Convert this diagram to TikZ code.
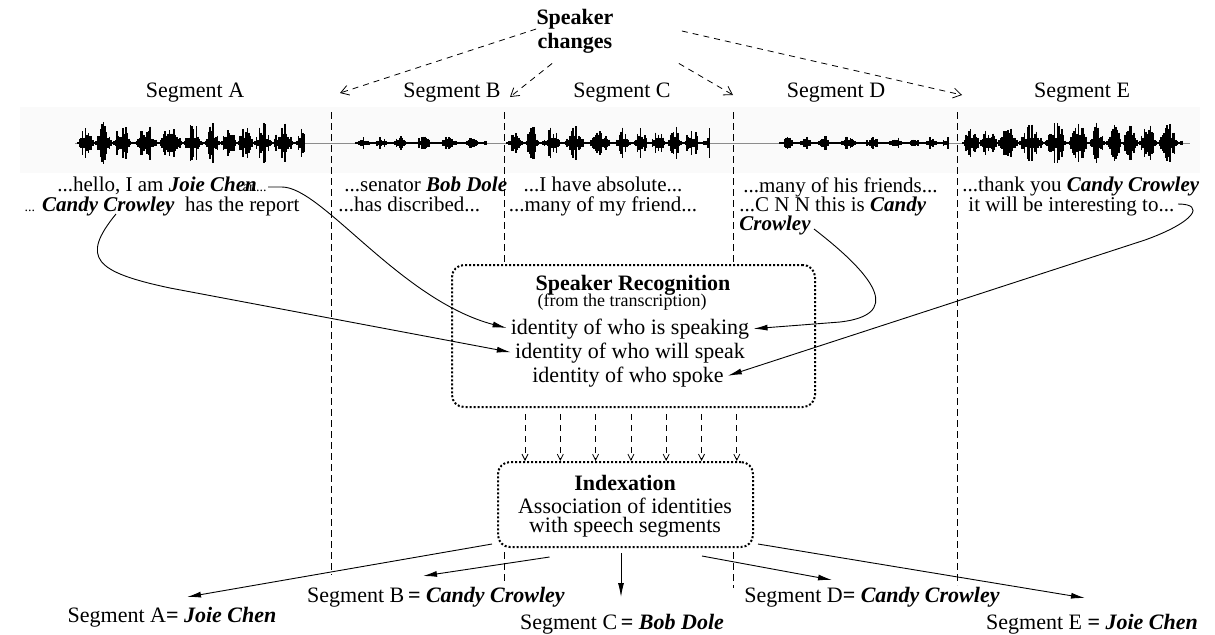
\documentclass[tikz,border=0pt]{standalone}
\usepackage{fontspec}
\setmainfont{Liberation Serif}
\usetikzlibrary{arrows.meta,positioning}
\setlength{\lineskiplimit}{-20pt}

\newcommand{\bi}[1]{\textbf{\textit{#1}}}
% one burst of the signal: start, end, amplitude, sharpness
\newcommand{\wavepart}[4]{%
  \pgfmathsetmacro{\wnext}{#1+1.5}%
  \foreach \wx in {#1,\wnext,...,#2}{%
    \pgfmathsetmacro{\wh}{0.6+#3*(0.2+0.8*rnd)*pow(abs(sin((\wx-#1)*9+50*sin((\wx-#1)*2.3))),#4)}%
    \draw[wave] (\wx,143-\wh) -- (\wx,143+\wh);
  }}

\tikzset{
  txt/.style={inner sep=0pt, font=\fontsize{11}{12}\selectfont},
  col/.style={inner sep=0pt, font=\fontsize{10.5}{9.6}\selectfont},
  ttl/.style={inner sep=0pt, align=center, font=\fontsize{11}{12}\selectfont\bfseries},
  wave/.style={line width=0.8pt},
  divider/.style={dash pattern=on 3.3pt off 2.2pt, line width=0.4pt},
  spkchange/.style={dash pattern=on 3pt off 2.5pt, line width=0.4pt, -{Straight Barb[length=4pt,width=5pt]}},
  feed/.style={dash pattern=on 3pt off 2.5pt, line width=0.4pt, -{Straight Barb[length=3pt,width=3pt]}},
  link/.style={line width=0.45pt, -{Latex[length=7pt,width=3pt]}, shorten >=2pt},
  dotbox/.style={draw, fill=white, rounded corners=6pt, line width=1pt, dash pattern=on 1pt off 1pt},
}

\begin{document}
\begin{tikzpicture}[x=0.5pt, y=-0.5pt]
\useasboundingbox (0,0) rectangle (1215,634);

\fill[black!2] (20,107) rectangle (1200,173);
\draw[black!45, line width=0.3pt] (75,143) -- (1190,143);
\pgfmathsetseed{11}
\wavepart{78}{305}{22}{1.5}
\wavepart{356}{487}{7}{3}
\wavepart{507}{710}{18}{2}
\wavepart{780}{948}{7}{3}
\wavepart{963}{1182}{21}{1.3}

% segment borders
\draw[divider] (331,112) -- (331,575);
\draw[divider] (504,112) -- (504,262);
\draw[divider] (504,552) -- (504,582);
\draw[divider] (733,112) -- (733,265);
\draw[divider] (733,552) -- (733,588);
\draw[divider] (957,112) -- (957,585);

\node[ttl] (chg) at (575,31) {Speaker\\changes};
\node[txt] (segA) at (195,93) {Segment A};
\node[txt] (segB) at (452,93) {Segment B};
\node[txt] (segC) at (622,93) {Segment C};
\node[txt] (segD) at (836,93) {Segment D};
\node[txt] (segE) at (1082,93) {Segment E};

\coordinate (t1) at (340,93);
\coordinate (t2) at (510,97);
\coordinate (t3) at (733,95);
\coordinate (t4) at (962,95);
\draw[spkchange] ([shift={(0,-2)}]chg.west) -- (t1);
\draw[spkchange] ([shift={(16,10)}]chg.south west) -- (t2);
\draw[spkchange] ([shift={(65,10)}]chg.south east) -- (t3);
\draw[spkchange] ([shift={(68,0)}]chg.east) -- (t4);

% transcriptions
\node[col, align=center, anchor=north] (colA) at (162,177)
  {...hello, I am \bi{Joie Chen}\kern-7pt{\scriptsize an...}\\
   {\scriptsize ...} \bi{Candy Crowley}\ \ has the report};
\node[col, align=left, anchor=north west] (colB) at (338,177)
  {\hspace*{3pt}...senator \bi{Bob Dole}\\...has discribed...};
\node[col, align=center, anchor=north] (colC) at (603,177)
  {...I have absolute...\\...many of my friend...};
\node[col, align=left, anchor=north west] (colD) at (739,177)
  {\hspace*{2pt}...many of his friends...\\...C N N this is\ \bi{Candy}\\\bi{Crowley}};
\node[col, align=left, anchor=north west] (colE) at (962,177)
  {...thank you \bi{Candy Crowley}\\\hspace*{3pt}it will be interesting to...};
\coordinate (jc) at (268,187);
\coordinate (cc) at (116,214);
\coordinate (cd) at (814,229);
\coordinate (et) at (1178,204);

\node[dotbox, minimum width=181.5pt, minimum height=71pt] (reco) at (633.5,336) {};
\node[ttl] (rtitle) at (633,285) {Speaker Recognition};
\node[txt, font=\fontsize{9}{10}\selectfont] (from) at (622,302) {(from the transcription)};
\node[txt, font=\fontsize{11}{11}\selectfont] (spk) at (630,329) {identity of who is speaking};
\node[txt, font=\fontsize{11}{11}\selectfont] (will) at (630,353) {identity of who will speak};
\node[txt, font=\fontsize{11}{11}\selectfont] (spoke) at (628,377) {identity of who spoke};

\node[dotbox, minimum width=127.5pt, minimum height=42.5pt] (idx) at (625.5,504.5) {};
\node[ttl] (ititle) at (625,483) {Indexation};
\node[txt, align=center, font=\fontsize{11}{9.6}\selectfont] (assoc) at (625,518)
  {Association of identities\\with speech segments};

\draw[link] (jc) -- ++(14,0) .. controls +(40,0) and (400,300) .. (spk.west);
\draw[link] (cc) .. controls (80,258) and (95,272) .. (170,288) -- (will.west);
\draw[link] (cd) .. controls (880,280) and (900,315) .. (840,322) -- (spk.east);
\draw[link] (et) .. controls +(28,0) and (1195,222) .. (1145,240) -- (spoke.east);

\foreach \i in {0,...,6}{
  \coordinate (p) at ({525+35.3*\i},0);
  \draw[feed] (p |- reco.south) ++(0,6) -- (p |- idx.north);
}

% results
\node[txt] (resA) at (172,617) {Segment A\textbf{=} \bi{Joie Chen}};
\node[txt] (resB) at (436,597) {Segment B\,\textbf{=} \bi{Candy Crowley}};
\node[txt] (resC) at (622,624) {Segment C\,\textbf{=} \bi{Bob Dole}};
\node[txt] (resD) at (872,597) {Segment D\textbf{=} \bi{Candy Crowley}};
\node[txt] (resE) at (1092,624) {Segment E \textbf{=} \bi{Joie Chen}};

\coordinate (ta) at (187,597);
\coordinate (tb) at (423,576);
\coordinate (tc) at (621,597);
\coordinate (td) at (832,580);
\coordinate (te) at (1085,598);
\draw[link, shorten >=0pt] ([shift={(-5,-4)}]idx.south west) -- (ta);
\draw[link, shorten >=0pt] ([shift={(-76,9)}]idx.south) -- (tb);
\draw[link, shorten >=0pt] ([shift={(-4.5,5)}]idx.south) -- (tc);
\draw[link, shorten >=0pt] ([shift={(76.5,8)}]idx.south) -- (td);
\draw[link, shorten >=0pt] ([shift={(4,-4)}]idx.south east) -- (te);
\end{tikzpicture}
\end{document}
